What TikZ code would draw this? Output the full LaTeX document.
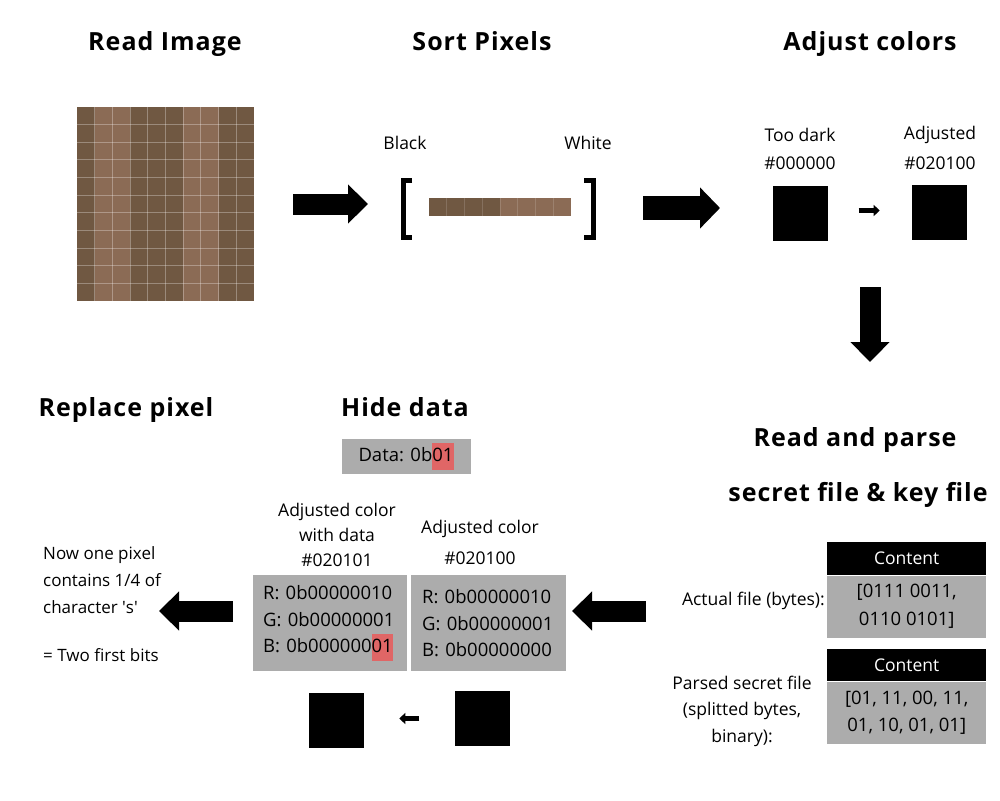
\documentclass[tikz,border=0pt]{standalone}
\usepackage{fontspec}
\setmainfont{Open Sans}
\usetikzlibrary{arrows.meta}

\definecolor{pxdark}{HTML}{705842}
\definecolor{pxlight}{HTML}{8B6B55}
\definecolor{boxgray}{HTML}{ACACAC}
\definecolor{hired}{HTML}{E06666}
\newcommand{\hlbits}[1]{{\setlength{\fboxsep}{0pt}\colorbox{hired}{\strut #1}}}

\begin{document}
\begin{tikzpicture}[x=1pt, y=-1pt,
    head/.style={font=\fontsize{25}{29}\selectfont\bfseries\addfontfeature{LetterSpace=4}, inner sep=0pt, anchor=base},
    txt/.style={font=\fontsize{17.5}{25}\selectfont, inner sep=0pt},
    boxtxt/.style={font=\fontsize{18.5}{26.5}\selectfont},
    blk/.style={fill=black, minimum size=55pt, inner sep=0pt},
    gbox/.style={fill=boxgray, inner sep=0pt},
    pxsep/.style={white, opacity=0.3, line width=1pt},
    bigarrow/.style={line width=21pt, -{Triangle[length=20pt, width=38pt]}},
    smallarrow/.style={line width=5pt, -{Triangle[length=6pt, width=11pt]}}]
    \useasboundingbox (0,0) rectangle (1000,800);

    \node[head] (readimg) at (165,50) {Read Image};
    \node[head] (sortpx) at (482,50) {Sort Pixels};
    \node[head] (adjcol) at (870,50) {Adjust colors};
    \node[head] (replpx) at (126,416) {Replace pixel};
    \node[head] (hide) at (405,416) {Hide data};
    \node[head] (parse1) at (855,446) {Read and parse};
    \node[head] (parse2) at (858,501) {secret file \& key file};

    \foreach \c [count=\i from 0] in {pxdark,pxlight,pxlight,pxdark,pxdark,pxdark,pxlight,pxlight,pxdark,pxdark}
        \fill[\c] (77+17.7*\i,107) rectangle (94.7+17.7*\i,301);
    \foreach \i in {1,...,9} \draw[pxsep] (77+17.7*\i,107) -- (77+17.7*\i,301);
    \foreach \j in {1,...,10} \draw[pxsep] (77,107+17.64*\j) -- (254,107+17.64*\j);

    \node[txt] (black) at (405,143) {Black};
    \node[txt] (white) at (588,143) {White};
    \foreach \c [count=\i from 0] in {pxdark,pxdark,pxdark,pxdark,pxlight,pxlight,pxlight,pxlight}
        \fill[\c] (429+17.75*\i,198) rectangle (446.75+17.75*\i,216);
    \foreach \i in {1,...,7} \draw[pxsep, opacity=0.15] (429+17.75*\i,198) -- (429+17.75*\i,216);
    \draw[line width=5pt, miter limit=10] (412,180.5) -- (403.5,180.5) -- (403.5,237.5) -- (412,237.5);
    \draw[line width=5pt, miter limit=10] (584,180.5) -- (593.5,180.5) -- (593.5,237.5) -- (584,237.5);

    \node[txt] (dark) at (800,135) {Too dark};
    \node[txt] (darkhex) at (800,163) {\#000000};
    \node[txt] (adj) at (940,135) {Adjusted};
    \node[txt] (adjhex) at (940,163) {\#020100};
    \node[blk] (sqdark) at (800,213.5) {};
    \node[blk] (sqadj) at (939.5,212.5) {};

    \node[txt, anchor=east] (actual) at (825,601) {Actual file (bytes):};
    \node[gbox, fill=black, text=white, minimum width=159pt, minimum height=33pt, anchor=north west, txt] (head1) at (827,542) {Content};
    \node[gbox, minimum width=159pt, minimum height=62pt, anchor=north, boxtxt, align=center, font=\fontsize{18.5}{28}\selectfont] (body1) at (head1.south) {[0111 0011,\\0110 0101]};
    \node[txt, align=center, font=\fontsize{17.5}{26.5}\selectfont] (parsed) at (742,711) {Parsed secret file\\(splitted bytes,\\binary):};
    \node[gbox, fill=black, text=white, minimum width=159pt, minimum height=32pt, anchor=north west, txt] (head2) at (827,649) {Content};
    \node[gbox, minimum width=159pt, minimum height=62pt, anchor=north, align=center, font=\fontsize{18.5}{27}\selectfont] (body2) at (head2.south) {[01, 11, 00, 11,\\01, 10, 01, 01]};

    \node[gbox, minimum width=129pt, minimum height=35pt, boxtxt] (data) at (406,456.5) {Data: 0b\hlbits{01}};
    \node[txt, align=center] (withdata) at (337,535) {Adjusted color\\with data\\\#020101};
    \node[txt, align=center, font=\fontsize{17.5}{31}\selectfont] (plain) at (480,542.5) {Adjusted color\\\#020100};
    \node[gbox, minimum height=96pt, text width=134pt, inner xsep=10pt, align=left, anchor=north west, boxtxt] (rgbdata) at (253,575) {R: 0b00000010\\G: 0b00000001\\B: 0b000000\hlbits{01}};
    \node[gbox, minimum height=96pt, text width=133pt, inner xsep=11pt, align=left, anchor=north west, boxtxt] (rgbplain) at (411,575) {R: 0b00000010\\G: 0b00000001\\B: 0b00000000};
    \node[blk] (sqnew) at (336.5,720.5) {};
    \node[blk] (sqold) at (482,718.5) {};

    \node[txt, align=left, anchor=north west, font=\fontsize{17}{27}\selectfont] (result) at (43,546) {Now one pixel\\contains 1/4 of\\character \textquotesingle s\textquotesingle\\[21pt]= Two first bits};

    \coordinate (a1s) at (293,204);
    \coordinate (a1e) at (368,204);
    \coordinate (a2s) at (643,208);
    \coordinate (a2e) at (720,208);
    \coordinate (a3s) at (870,287);
    \coordinate (a3e) at (870,362);
    \coordinate (a4s) at (646,611);
    \coordinate (a4e) at (572,611);
    \coordinate (a5s) at (233,611);
    \coordinate (a5e) at (159,611);
    \draw[bigarrow] (a1s) -- (a1e);
    \draw[bigarrow, line width=24pt, -{Triangle[length=20pt, width=40pt]}] (a2s) -- (a2e);
    \draw[bigarrow] (a3s) -- (a3e);
    \draw[bigarrow] (a4s) -- (a4e);
    \draw[bigarrow] (a5s) -- (a5e);
    \draw[smallarrow] (sqdark.east) ++(31,-3) coordinate (s1s) -- ++(21,0) coordinate (s1e);
    \draw[smallarrow] (sqold.west) ++(-35,0) coordinate (s2s) -- ++(-20,0) coordinate (s2e);
\end{tikzpicture}
\end{document}
